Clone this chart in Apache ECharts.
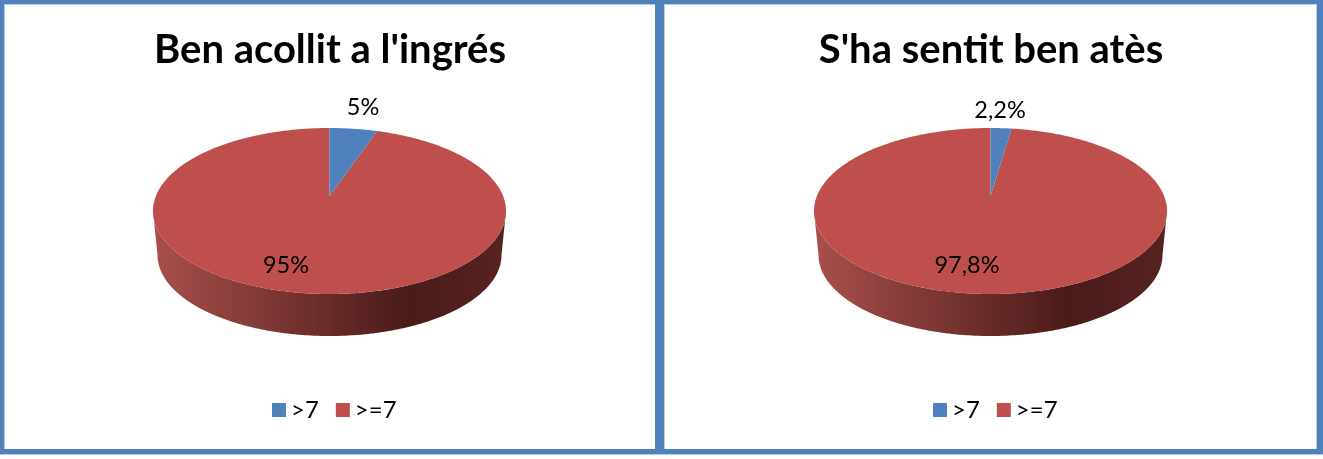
<!DOCTYPE html>
<html>
<head>
<meta charset="utf-8">
<style>html,body{margin:0;padding:0;background:#fff}#c{width:1323px;height:459px}</style>
<script src="https://cdn.jsdelivr.net/npm/echarts@6/dist/echarts.min.js"></script>
</head>
<body>
<div id="c"></div>
<script>
// data
const categories = ['>7', '>=7'];
const titles = ["Ben acollit a l'ingrés", "S'ha sentit ben atès"];
const valuesLeft = [5, 95];
const valuesRight = [2.2, 97.8];
const labelsLeft = ['5%', '95%'];
const labelsRight = ['2,2%', '97,8%'];
const colors = ['#4F81BD', '#BE4F4C'];

// layout
const FONT = 'Lato, "Open Sans", sans-serif';
const BORDER = '#4F81BD', BORDER_LIGHT = '#B9CDE5';
const charts = [
  {cx: 329.5, titleX: 325, values: valuesLeft,  labels: labelsLeft,  labelPos: [[363, 107], [286, 265]], legendLeft: 272},
  {cx: 990.5, titleX: 986, values: valuesRight, labels: labelsRight, labelPos: [[1000, 110], [967, 265]], legendLeft: 933}
];
const TOP = {cy: 211, rx: 176.5, ry: 83};
const BOTTOM = {cy: 255, rx: 172, ry: 81};
const K = 0.14;           // perspective of the slice angles on the top ellipse
const APEX_UP = 15;       // the pie's centre sits this far above the ellipse centre
const SIDE_STOPS = [
  {offset: 0, color: '#A94F4C'},
  {offset: 0.72, color: '#4A1B19'},
  {offset: 1, color: '#572321'}
];

function ellipsePt(cx, e, t) { return [cx + e.rx * Math.sin(t), e.cy - e.ry * Math.cos(t)]; }
function toEllipseAngle(theta) {
  const x = Math.sin(theta), y = Math.cos(theta), d = 1 + K * y;
  let t = Math.atan2(x * Math.sqrt(1 - K * K) / d, (y + K) / d);
  while (t < theta - Math.PI) t += 2 * Math.PI;
  return t;
}
function arc(cx, e, t0, t1) {
  const n = Math.max(2, Math.ceil(Math.abs(t1 - t0) / 0.01)), pts = [];
  for (let i = 0; i <= n; i++) pts.push(ellipsePt(cx, e, t0 + (t1 - t0) * i / n));
  return pts;
}
function sliceRender(chart, idx) {
  return function (params, api) {
    const total = chart.values.reduce((a, b) => a + b, 0);
    const before = chart.values.slice(0, idx).reduce((a, b) => a + b, 0);
    const t0 = toEllipseAngle(before / total * 2 * Math.PI);
    const t1 = toEllipseAngle((before + api.value(0)) / total * 2 * Math.PI);
    const cx = chart.cx, children = [];
    // front wall: the part of the slice on the lower half of the ellipse
    const a = Math.max(t0, Math.PI / 2), b = Math.min(t1, 3 * Math.PI / 2);
    if (b > a) {
      children.push({
        type: 'polygon',
        shape: {points: arc(cx, TOP, a, b).concat(arc(cx, BOTTOM, b, a))},
        style: {
          fill: new echarts.graphic.LinearGradient(cx - TOP.rx, 0, cx + TOP.rx, 0, SIDE_STOPS, true)
        }
      });
    }
    children.push({
      type: 'polygon',
      shape: {points: [[cx, TOP.cy - APEX_UP]].concat(arc(cx, TOP, t0, t1))},
      style: {fill: colors[idx]}
    });
    children.push({
      type: 'text',
      z2: 10,
      style: {
        x: chart.labelPos[idx][0], y: chart.labelPos[idx][1],
        text: chart.labels[idx], fill: '#000', font: '23.5px ' + FONT,
        align: 'center', verticalAlign: 'middle'
      }
    });
    return {type: 'group', children: children};
  };
}

const series = [];
charts.forEach(function (chart) {
  // the long slice first so the small one sits on top
  [1, 0].forEach(function (idx) {
    series.push({
      type: 'custom',
      name: categories[idx],
      coordinateSystem: 'none',
      z: idx === 0 ? 3 : 2,
      silent: true,
      itemStyle: {color: colors[idx]},
      renderItem: sliceRender(chart, idx),
      data: [[chart.values[idx]]]
    });
  });
});

function bar(x, y, w, h, fill) {
  return {type: 'rect', silent: true, shape: {x: x, y: y, width: w, height: h}, style: {fill: fill}};
}

const chartEl = echarts.init(document.getElementById('c'), null, {renderer: 'canvas'});
chartEl.setOption({
  backgroundColor: '#fff',
  animation: false,
  title: charts.map(function (chart, i) {
    return {
      text: titles[i], left: chart.titleX, top: 25, textAlign: 'center',
      textStyle: {fontFamily: FONT, fontWeight: 'bold', fontSize: 40, color: '#000'}
    };
  }),
  legend: charts.map(function (chart) {
    return {
      data: categories, left: chart.legendLeft, top: 398, padding: 0, icon: 'rect',
      itemWidth: 14, itemHeight: 14, itemGap: 17, selectedMode: false,
      textStyle: {fontFamily: FONT, fontSize: 24, color: '#000'}
    };
  }),
  graphic: {elements: [
    bar(4, 4, 1, 445, BORDER_LIGHT), bar(4, 4, 651, 1, BORDER_LIGHT),
    bar(664, 4, 1, 445, BORDER_LIGHT), bar(664, 4, 653, 1, BORDER_LIGHT),
    bar(0, 454, 1323, 1, BORDER_LIGHT), bar(1316, 4, 1, 445, BORDER_LIGHT),
    bar(0, 0, 1323, 4, BORDER), bar(0, 449, 1323, 5, BORDER),
    bar(0, 0, 4, 454, BORDER), bar(655, 0, 9, 454, BORDER), bar(1317, 0, 6, 454, BORDER)
  ]},
  series: series
});
</script>
</body>
</html>
